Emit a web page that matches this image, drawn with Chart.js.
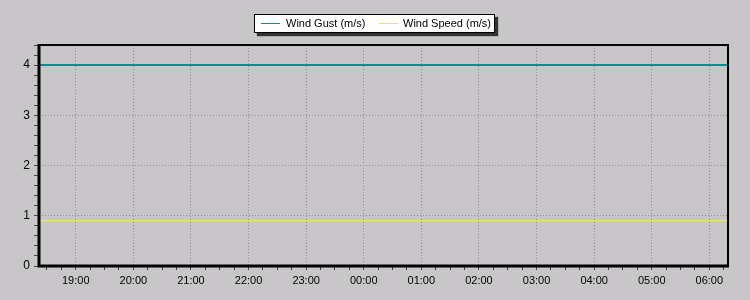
<!DOCTYPE html>
<html lang="en">
<head>
    <meta charset="UTF-8">
    <title>Wind</title>
    <script src="https://cdn.jsdelivr.net/npm/chart.js"></script>
    <style>
        body {
            margin: 0;
            padding: 0;
            background-color: #c8c6c9;
            font-family: "Liberation Sans", Arial, sans-serif;
        }
        .wrap {
            position: relative;
            width: 750px;
            height: 300px;
        }
        .legend {
            position: absolute;
            left: 254px;
            top: 14px;
            width: 239px;
            height: 17px;
            background: #fff;
            border: 1px solid #000;
            box-shadow: 3px 3px 1px #333;
            font-size: 11px;
            color: #000;
        }
        .legend span {
            position: absolute;
            top: 2px;
            white-space: nowrap;
        }
        .legend i {
            position: absolute;
            top: 8px;
            height: 1px;
            width: 19px;
        }
    </style>
</head>
<body>
    <div class="wrap">
        <canvas id="windChart" width="750" height="300"></canvas>
        <div class="legend">
            <i style="left:6px;background:#0a8f8f"></i><span style="left:31px">Wind Gust (m/s)</span>
            <i style="left:124px;background:#f2f200"></i><span style="left:148px">Wind Speed (m/s)</span>
        </div>
    </div>

    <script>
        // readings (local time)
        const times = ['18:22', '19:00', '20:00', '21:00', '22:00', '23:00', '00:00',
                       '01:00', '02:00', '03:00', '04:00', '05:00', '06:00', '06:19'];
        const gust  = [4, 4, 4, 4, 4, 4, 4, 4, 4, 4, 4, 4, 4, 4];
        const speed = [0.9, 0.9, 0.9, 0.9, 0.9, 0.9, 0.9, 0.9, 0.9, 0.9, 0.9, 0.9, 0.9, 0.9];
        const yLabels = ['0', '1', '2', '3', '4'];

        // hours since midnight of the first day
        function toHours(t) {
            const [h, m] = t.split(':').map(Number);
            return (h < 12 ? h + 24 : h) + m / 60;
        }
        const isWhole = v => Math.abs(v - Math.round(v)) < 1e-6;

        const frame = {
            id: 'frame',
            afterDraw(chart) {
                const { ctx, chartArea: a } = chart;
                ctx.save();
                ctx.strokeStyle = '#000';
                ctx.lineWidth = 2;
                ctx.strokeRect(a.left, a.top, a.right - a.left, a.bottom - a.top);
                ctx.lineWidth = 3;
                ctx.beginPath();
                ctx.moveTo(a.left, a.top - 1);
                ctx.lineTo(a.left, a.bottom);
                ctx.lineTo(a.right + 1, a.bottom);
                ctx.stroke();
                ctx.restore();
            }
        };

        new Chart(document.getElementById('windChart'), {
            type: 'line',
            data: {
                datasets: [
                    {
                        label: 'Wind Gust (m/s)',
                        data: times.map((t, i) => ({ x: toHours(t), y: gust[i] })),
                        borderColor: '#0a8f8f',
                        borderWidth: 2,
                        pointRadius: 0
                    },
                    {
                        label: 'Wind Speed (m/s)',
                        data: times.map((t, i) => ({ x: toHours(t), y: speed[i] })),
                        borderColor: '#f4f23a',
                        borderWidth: 1,
                        pointRadius: 0
                    }
                ]
            },
            options: {
                responsive: false,
                animation: false,
                layout: { padding: { top: 45, right: 22, left: 0, bottom: 0 } },
                plugins: { legend: { display: false }, tooltip: { enabled: false } },
                scales: {
                    x: {
                        type: 'linear',
                        min: 18.362,
                        max: 30.324,
                        afterFit: s => { s.height = 34; },
                        border: { display: false, dash: [1, 2] },
                        grid: {
                            color: c => isWhole(c.tick.value) ? '#8e8c8f' : 'rgba(0,0,0,0)',
                            tickLength: 4,
                            tickColor: '#444',
                            tickBorderDash: []
                        },
                        ticks: {
                            stepSize: 0.25,
                            includeBounds: false,
                            autoSkip: false,
                            maxTicksLimit: 200,
                            maxRotation: 0,
                            padding: 4,
                            color: '#000',
                            font: { family: 'Liberation Sans', size: 11 },
                            callback: v => isWhole(v) ? String(Math.round(v) % 24).padStart(2, '0') + ':00' : ''
                        }
                    },
                    y: {
                        min: 0,
                        max: 4.4,
                        afterFit: s => { s.width = 39; },
                        border: { display: false, dash: [1, 2] },
                        grid: {
                            color: c => isWhole(c.tick.value) && c.tick.value > 0 ? '#8e8c8f' : 'rgba(0,0,0,0)',
                            tickLength: 5,
                            tickColor: '#444',
                            tickBorderDash: []
                        },
                        ticks: {
                            stepSize: 0.2,
                            autoSkip: false,
                            maxTicksLimit: 200,
                            padding: 4,
                            color: '#000',
                            font: { family: 'Liberation Sans', size: 12 },
                            callback: v => isWhole(v) ? yLabels[Math.round(v)] : ''
                        }
                    }
                }
            },
            plugins: [frame]
        });
    </script>
</body>
</html>
